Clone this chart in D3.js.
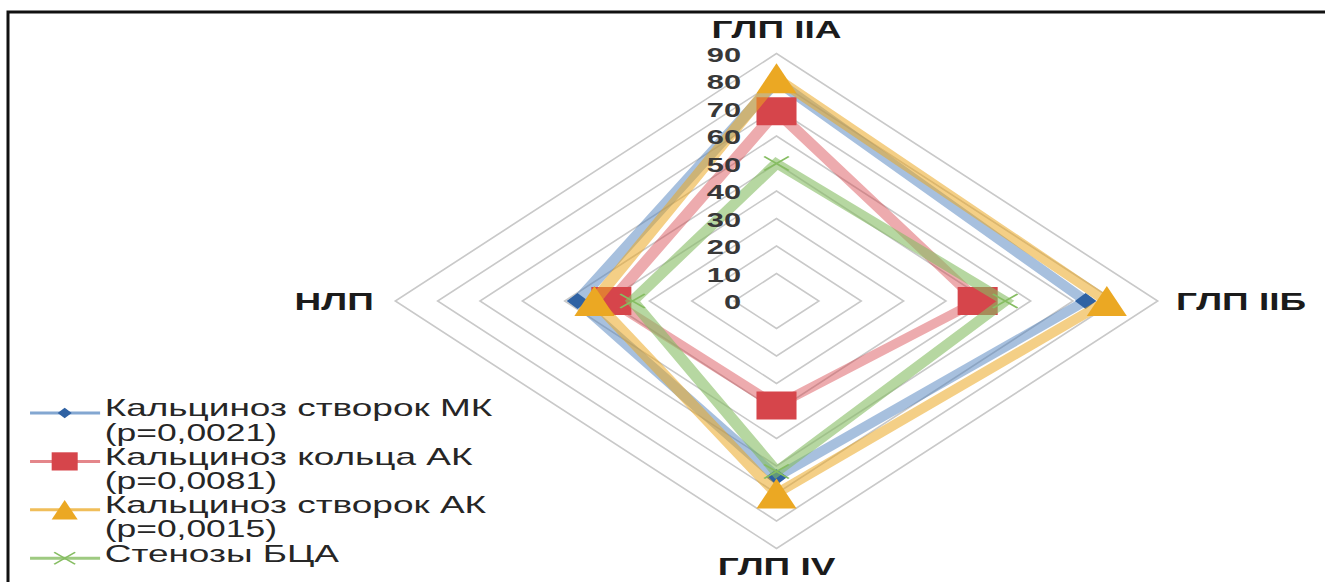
<!DOCTYPE html>
<html>
<head>
<meta charset="utf-8">
<script src="https://cdn.jsdelivr.net/npm/d3@7"></script>
<style>
  html, body { margin: 0; padding: 0; background: #fff; }
  svg { display: block; font-family: "Liberation Sans", Arial, sans-serif; }
</style>
</head>
<body>
<svg id="chart" width="1325" height="582"></svg>
<script>
// Radar axes (clockwise from the top)
const categories = ["ГЛП IIА", "ГЛП IIБ", "ГЛП IV", "НЛП"];
const tickValues = [0, 10, 20, 30, 40, 50, 60, 70, 80, 90];

// Series values, %
const mkLeafletValues = [80, 73, 64, 47];
const akRingValues = [69, 47.5, 38, 39];
const akLeafletValues = [81, 78, 70, 43];
const bcaStenosisValues = [50, 54, 62, 34];

const seriesNames = [
  ["Кальциноз створок МК", "(p=0,0021)"],
  ["Кальциноз кольца АК", "(p=0,0081)"],
  ["Кальциноз створок АК", "(p=0,0015)"],
  ["Стенозы БЦА"]
];

const series = [
  { values: mkLeafletValues, lines: seriesNames[0], marker: "diamond", color: "#2f62a3", line: "#4f81bd", lineOpacity: 0.5 },
  { values: akRingValues, lines: seriesNames[1], marker: "square", color: "#d6454b", line: "#d6454b", lineOpacity: 0.45 },
  { values: akLeafletValues, lines: seriesNames[2], marker: "triangle", color: "#eba823", line: "#eba823", lineOpacity: 0.55 },
  { values: bcaStenosisValues, lines: seriesNames[3], marker: "cross", color: "#86bd62", line: "#86bd62", lineOpacity: 0.6 }
];

const SX = 1.54;            // horizontal stretch of the whole drawing
const W = 1325, H = 582;
const CX = 776.5 / SX, CY = 301;

const svg = d3.select("#chart");

const r = d3.scaleLinear().domain([0, 90]).range([0, 247.5]);
const angle = d3.scaleOrdinal()
  .domain(d3.range(categories.length))
  .range(d3.range(categories.length).map(i => i * 2 * Math.PI / categories.length));

const g = svg.append("g").attr("transform", `scale(${SX},1)`);
const plot = g.append("g").attr("transform", `translate(${CX},${CY})`);

const ptX = (i, v) => r(v) * Math.sin(angle(i));
const ptY = (i, v) => -r(v) * Math.cos(angle(i));

// grid rings
const ring = d3.lineRadial()
  .angle((d, i) => angle(i))
  .radius(d => r(d))
  .curve(d3.curveLinearClosed);

plot.append("g").selectAll("path")
  .data(tickValues.filter(v => v > 0))
  .join("path")
  .attr("d", v => ring(categories.map(() => v)))
  .attr("fill", "none")
  .attr("stroke", "#c9c9c9")
  .attr("stroke-width", 1.4);

// marker shapes (centered at 0,0)
function markerPath(type) {
  const p = d3.path();
  if (type === "diamond") {
    p.moveTo(0, -8); p.lineTo(7, 0); p.lineTo(0, 8); p.lineTo(-7, 0); p.closePath();
  } else if (type === "square") {
    p.rect(-13, -14, 26, 28);
  } else if (type === "triangle") {
    p.moveTo(0, -15); p.lineTo(13, 15); p.lineTo(-13, 15); p.closePath();
  } else {
    p.moveTo(-8, -7); p.lineTo(8, 7); p.moveTo(-8, 7); p.lineTo(8, -7);
  }
  return p.toString();
}

function drawMarker(sel, s, sw) {
  sel.attr("d", markerPath(s.marker));
  if (s.marker === "cross") {
    sel.attr("fill", "none").attr("stroke", s.color).attr("stroke-width", sw || 1.6);
  } else {
    sel.attr("fill", s.color).attr("stroke", "none");
  }
}

// series
series.forEach(s => {
  const sg = plot.append("g");
  sg.append("path")
    .attr("d", ring(s.values))
    .attr("fill", "none")
    .attr("stroke", s.line)
    .attr("stroke-opacity", s.lineOpacity)
    .attr("stroke-width", 8.5)
    .attr("stroke-linejoin", "miter");
  sg.selectAll("path.mk")
    .data(s.values)
    .join("path")
    .attr("class", "mk")
    .attr("transform", (v, i) => `translate(${ptX(i, v)},${ptY(i, v)})`)
    .each(function () { drawMarker(d3.select(this), s); });
});

// value ticks
plot.append("g").selectAll("text")
  .data(tickValues)
  .join("text")
  .attr("x", -23)
  .attr("y", v => -r(v) + 8)
  .attr("text-anchor", "end")
  .attr("font-size", 20)
  .attr("font-weight", "bold")
  .attr("fill", "#383838")
  .text(v => v);

// axis labels
const labelPos = [
  { x: 0, y: -r(90) - 16, anchor: "middle" },
  { x: r(90) + 12, y: 9, anchor: "start" },
  { x: 0, y: r(90) + 27, anchor: "middle" },
  { x: -r(90) - 14, y: 9, anchor: "end" }
];
plot.append("g").selectAll("text")
  .data(categories)
  .join("text")
  .attr("x", (d, i) => labelPos[i].x)
  .attr("y", (d, i) => labelPos[i].y)
  .attr("text-anchor", (d, i) => labelPos[i].anchor)
  .attr("font-size", 24)
  .attr("font-weight", "bold")
  .attr("fill", "#1b1b1b")
  .text(d => d);

// legend
const legend = g.append("g");
const lineH = 24.2;
let row = 0;
series.forEach(s => {
  const y0 = 408 + row * lineH;
  legend.append("line")
    .attr("x1", 19.5).attr("x2", 65)
    .attr("y1", y0 + 5).attr("y2", y0 + 5)
    .attr("stroke", s.line)
    .attr("stroke-opacity", Math.min(1, s.lineOpacity + 0.2))
    .attr("stroke-width", 3);
  const m = legend.append("path")
    .attr("transform", `translate(42,${y0 + 5}) scale(${s.marker === "cross" ? 0.85 : 0.65})`);
  drawMarker(m, s, 1.5);
  s.lines.forEach((t, k) => {
    legend.append("text")
      .attr("x", 68)
      .attr("y", y0 + k * lineH + 8.5)
      .attr("font-size", k === 0 ? 24 : 23)
      .attr("fill", "#262626")
      .text(t);
  });
  row += s.lines.length;
});

// outer frame
svg.append("path")
  .attr("d", `M8,${H} V12 H${W}`)
  .attr("fill", "none")
  .attr("stroke", "#111")
  .attr("stroke-width", 3);
</script>
</body>
</html>
